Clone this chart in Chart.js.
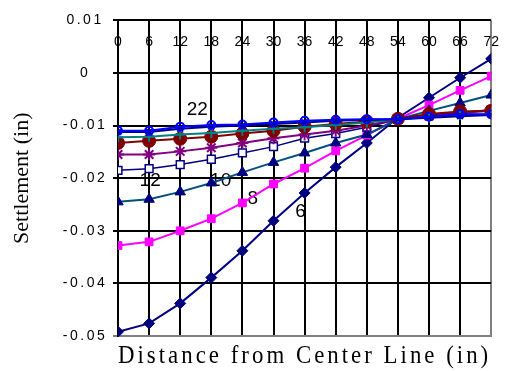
<!DOCTYPE html>
<html>
<head>
<meta charset="utf-8">
<script src="https://cdn.jsdelivr.net/npm/chart.js@4.4.1/dist/chart.umd.min.js"></script>
<style>
  html, body { margin: 0; padding: 0; background: #fff; }
  #wrap { width: 512px; height: 371px; position: relative; }
</style>
</head>
<body>
<div id="wrap"><canvas id="chart"></canvas></div>
<script>
// distance from center line (in)
const distance = [0, 6, 12, 18, 24, 30, 36, 42, 48, 54, 60, 66, 72];
const yTicks = [0.01, 0, -0.01, -0.02, -0.03, -0.04, -0.05];

// settlement (in), one array per curve
const s6  = [-0.0492, -0.0476, -0.0438, -0.0389, -0.0338, -0.0281, -0.0228, -0.0179, -0.0133, -0.0085, -0.0047, -0.0009, 0.0027];
const s8  = [-0.0328, -0.0321, -0.0300, -0.0277, -0.0247, -0.0211, -0.0181, -0.0148, -0.0118, -0.0087, -0.0061, -0.0033, -0.0006];
const s10 = [-0.0245, -0.0240, -0.0226, -0.0209, -0.0189, -0.0170, -0.0152, -0.0133, -0.0117, -0.0088, -0.0072, -0.0057, -0.0042];
const s12 = [-0.0185, -0.0182, -0.0174, -0.0164, -0.0152, -0.0140, -0.0124, -0.0115, -0.0103, -0.0088, -0.0080, -0.0075, -0.0070];
const s14 = [-0.0155, -0.0155, -0.0149, -0.0142, -0.0133, -0.0124, -0.0117, -0.0110, -0.0100, -0.0088, -0.0082, -0.0076, -0.0072];
const s16 = [-0.0133, -0.0129, -0.0125, -0.0121, -0.0115, -0.0110, -0.0102, -0.0097, -0.0092, -0.0087, -0.0078, -0.0073, -0.0072];
const s18 = [-0.0122, -0.0121, -0.0117, -0.0114, -0.0110, -0.0106, -0.0103, -0.0099, -0.0094, -0.0088, -0.0084, -0.0080, -0.0078];
const s20 = [-0.0112, -0.0112, -0.0106, -0.0102, -0.0100, -0.0097, -0.0094, -0.0091, -0.0089, -0.0088, -0.0085, -0.0082, -0.0080];
const s22 = [-0.0110, -0.0110, -0.0102, -0.0099, -0.0098, -0.0094, -0.0091, -0.0089, -0.0088, -0.0088, -0.0083, -0.0078, -0.0079];

// curve labels written inside the plot (data units)
const curveText = ['22', '12', '10', '8', '6'];
const curveX = [15.3, 6.2, 19.8, 26.0, 35.2];
const curveY = [-0.0070, -0.0204, -0.0204, -0.0240, -0.0264];

function line(label, data, color, pointStyle, radius, extra) {
  return Object.assign({
    label: label,
    data: distance.map((d, i) => ({ x: d, y: data[i] })),
    borderColor: color,
    backgroundColor: color,
    pointBorderColor: color,
    pointBackgroundColor: color,
    borderWidth: 2,
    pointStyle: pointStyle,
    pointRadius: radius,
    pointBorderWidth: 1,
    tension: 0
  }, extra || {});
}

const datasets = [
  line('22', s22, '#0000FF', 'circle', 4, { pointBackgroundColor: 'rgba(0,0,0,0)', pointBorderWidth: 2 }),
  line('20', s20, '#000080', 'crossRot', 4, { pointBorderWidth: 2 }),
  line('18', s18, '#008080', 'cross', 5, { pointBorderWidth: 2 }),
  line('16', s16, '#800000', 'circle', 6.5),
  line('14', s14, '#800080', 'star', 6, { pointBorderWidth: 2 }),
  line('12', s12, '#000080', 'rect', 5.5, { pointBackgroundColor: '#ffffff', pointBorderWidth: 1.5, borderWidth: 1.5 }),
  line('10', s10, '#00507F', 'triangle', 6, { pointBorderColor: '#000080', pointBackgroundColor: '#000080' }),
  line('8', s8, '#FF00FF', 'rect', 5.5),
  line('6', s6, '#000080', 'rectRot', 5.5)
];

// Excel-style wide lettering for a scale's labels / title
function spaced(scale, method, px) {
  if (scale['_sp_' + method]) return;
  const orig = scale[method];
  scale[method] = function (area) {
    const ctx = this.ctx;
    ctx.save();
    ctx.letterSpacing = px;
    orig.call(this, area);
    ctx.restore();
  };
  scale['_sp_' + method] = true;
}

const wideText = {
  id: 'wideText',
  afterLayout(chart) {
    spaced(chart.scales.y, 'drawLabels', '2.5px');
    spaced(chart.scales.x, 'drawTitle', '3.3px');
  }
};

const curveLabels = {
  id: 'curveLabels',
  beforeDatasetsDraw(chart) {
    const { ctx, scales: { x, y } } = chart;
    ctx.save();
    ctx.font = '19px "Liberation Sans", Arial, sans-serif';
    ctx.fillStyle = '#000';
    ctx.textAlign = 'center';
    ctx.textBaseline = 'middle';
    curveText.forEach((t, i) => {
      ctx.fillText(t, x.getPixelForValue(curveX[i]), y.getPixelForValue(curveY[i]));
    });
    ctx.restore();
  }
};

const setTicks = (list) => (scale) => { scale.ticks = list.map(v => ({ value: v })); };

new Chart(document.getElementById('chart'), {
  type: 'line',
  data: { datasets: datasets },
  options: {
    responsive: true,
    maintainAspectRatio: false,
    animation: false,
    events: [],
    layout: { padding: { top: 18, right: 9, left: 0, bottom: 0 } },
    plugins: { legend: { display: false }, tooltip: { enabled: false } },
    scales: {
      x: {
        type: 'linear',
        position: 'bottom',
        min: 0,
        max: 72,
        afterBuildTicks: setTicks(distance),
        afterFit: (s) => { s.height = 35; },
        ticks: { display: false },
        grid: {
          color: (c) => (c.tick && c.tick.value === 72 ? '#808080' : '#000000'),
          lineWidth: 2,
          drawTicks: false
        },
        border: { display: true, color: '#808080', width: 2 },
        title: {
          display: true,
          text: 'Distance from Center Line (in)',
          color: '#000',
          font: { family: '"Liberation Serif", "Times New Roman", serif', size: 25 },
          padding: { top: 0, bottom: 0 }
        }
      },
      xTop: {
        axis: 'x',
        type: 'linear',
        position: { y: 0.01 },
        min: 0,
        max: 72,
        afterBuildTicks: setTicks(distance),
        grid: { display: false, drawTicks: false },
        border: { display: false },
        ticks: {
          color: '#000',
          padding: 13,
          maxRotation: 0,
          autoSkip: false,
          font: { family: '"Liberation Sans", Arial, sans-serif', size: 14 }
        }
      },
      y: {
        type: 'linear',
        min: -0.05,
        max: 0.01,
        afterBuildTicks: setTicks(yTicks),
        afterFit: (s) => { s.width = 118; },
        ticks: {
          color: '#000',
          padding: 12,
          crossAlign: 'center',
          font: { family: '"Liberation Sans", Arial, sans-serif', size: 14 },
          callback: (v) => (Math.abs(v) < 1e-9 ? '0' : v.toFixed(2))
        },
        grid: {
          color: (c) => (c.tick && Math.abs(c.tick.value + 0.05) < 1e-9 ? '#808080' : '#000000'),
          lineWidth: 2,
          tickLength: 5
        },
        border: { display: true, color: '#000', width: 2 },
        title: {
          display: true,
          text: 'Settlement (in)',
          color: '#000',
          font: { family: '"Liberation Serif", "Times New Roman", serif', size: 22 },
          padding: { top: 9, bottom: 0 }
        }
      }
    }
  },
  plugins: [wideText, curveLabels]
});
</script>
</body>
</html>
